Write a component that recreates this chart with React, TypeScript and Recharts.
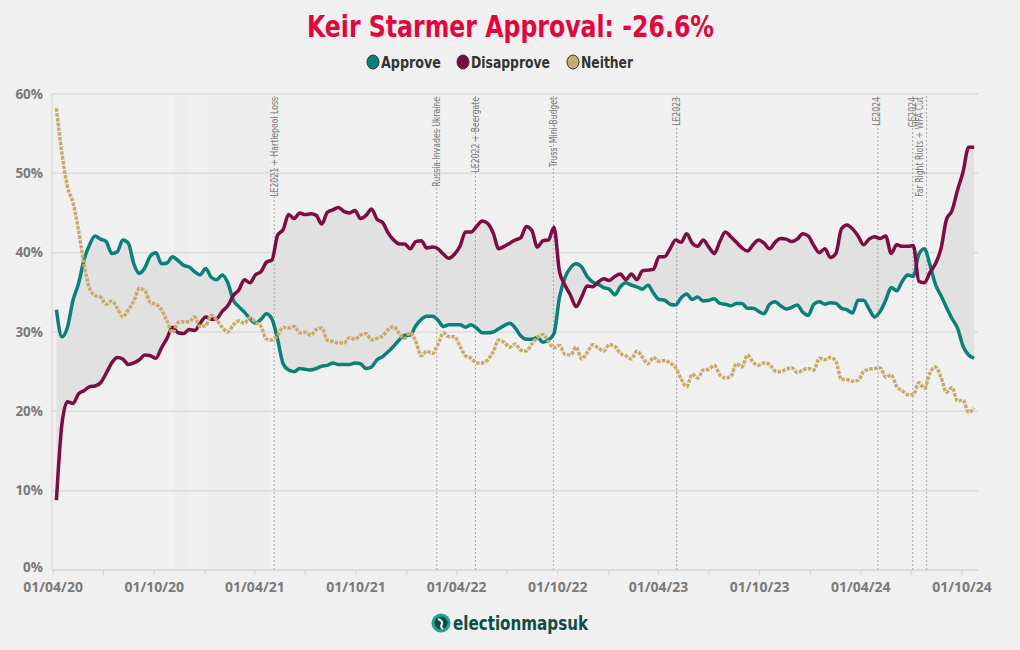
import React from 'react';
import {
  ComposedChart,
  Line,
  Area,
  XAxis,
  YAxis,
  CartesianGrid,
  ReferenceLine,
  ReferenceArea,
} from 'recharts';

// --- poll dates (rolling average, every 10 days) ---
const dates = [
  '2020-04-07', '2020-04-17', '2020-04-27', '2020-05-07', '2020-05-17', '2020-05-27', '2020-06-06', '2020-06-16', '2020-06-26', '2020-07-06',
  '2020-07-16', '2020-07-26', '2020-08-05', '2020-08-15', '2020-08-25', '2020-09-04', '2020-09-14', '2020-09-24', '2020-10-04', '2020-10-14',
  '2020-10-24', '2020-11-03', '2020-11-13', '2020-11-23', '2020-12-03', '2020-12-13', '2020-12-23', '2021-01-02', '2021-01-12', '2021-01-22',
  '2021-02-01', '2021-02-11', '2021-02-21', '2021-03-03', '2021-03-13', '2021-03-23', '2021-04-02', '2021-04-12', '2021-04-22', '2021-05-02',
  '2021-05-12', '2021-05-22', '2021-06-01', '2021-06-11', '2021-06-21', '2021-07-01', '2021-07-11', '2021-07-21', '2021-07-31', '2021-08-10',
  '2021-08-20', '2021-08-30', '2021-09-09', '2021-09-19', '2021-09-29', '2021-10-09', '2021-10-19', '2021-10-29', '2021-11-08', '2021-11-18',
  '2021-11-28', '2021-12-08', '2021-12-18', '2021-12-28', '2022-01-07', '2022-01-17', '2022-01-27', '2022-02-06', '2022-02-16', '2022-02-26',
  '2022-03-08', '2022-03-18', '2022-03-28', '2022-04-07', '2022-04-17', '2022-04-27', '2022-05-07', '2022-05-17', '2022-05-27', '2022-06-06',
  '2022-06-16', '2022-06-26', '2022-07-06', '2022-07-16', '2022-07-26', '2022-08-05', '2022-08-15', '2022-08-25', '2022-09-04', '2022-09-14',
  '2022-09-24', '2022-10-04', '2022-10-14', '2022-10-24', '2022-11-03', '2022-11-13', '2022-11-23', '2022-12-03', '2022-12-13', '2022-12-23',
  '2023-01-02', '2023-01-12', '2023-01-22', '2023-02-01', '2023-02-11', '2023-02-21', '2023-03-03', '2023-03-13', '2023-03-23', '2023-04-02',
  '2023-04-12', '2023-04-22', '2023-05-02', '2023-05-12', '2023-05-22', '2023-06-01', '2023-06-11', '2023-06-21', '2023-07-01', '2023-07-11',
  '2023-07-21', '2023-07-31', '2023-08-10', '2023-08-20', '2023-08-30', '2023-09-09', '2023-09-19', '2023-09-29', '2023-10-09', '2023-10-19',
  '2023-10-29', '2023-11-08', '2023-11-18', '2023-11-28', '2023-12-08', '2023-12-18', '2023-12-28', '2024-01-07', '2024-01-17', '2024-01-27',
  '2024-02-06', '2024-02-16', '2024-02-26', '2024-03-07', '2024-03-17', '2024-03-27', '2024-04-06', '2024-04-16', '2024-04-26', '2024-05-06',
  '2024-05-16', '2024-05-26', '2024-06-05', '2024-06-15', '2024-06-25', '2024-07-05', '2024-07-15', '2024-07-25', '2024-08-04', '2024-08-14',
  '2024-08-24', '2024-09-03', '2024-09-13', '2024-09-23', '2024-10-03', '2024-10-13', '2024-10-23',
];

const approve = [
  32.8, 29.4, 30.6, 34.0, 36.1, 39.1, 41.0, 42.1, 41.7, 41.4,
  39.9, 40.1, 41.6, 41.2, 38.6, 37.4, 38.1, 39.6, 40.0, 38.6,
  38.7, 39.5, 39.0, 38.4, 38.2, 37.6, 37.2, 38.0, 36.9, 36.6,
  37.2, 36.2, 34.0, 33.2, 32.5, 31.7, 31.1, 31.6, 32.3, 31.6,
  29.1, 26.0, 25.2, 25.0, 25.4, 25.3, 25.2, 25.4, 25.7, 25.8,
  26.1, 25.9, 25.9, 25.9, 26.1, 26.0, 25.4, 25.6, 26.5, 26.9,
  27.5, 28.2, 29.0, 29.6, 29.6, 30.8, 31.6, 32.0, 32.0, 31.5,
  30.7, 30.9, 30.9, 30.9, 30.6, 30.9, 30.5, 29.9, 29.9, 30.0,
  30.4, 30.8, 31.1, 30.5, 29.5, 29.1, 29.1, 29.3, 28.7, 29.0,
  29.8, 34.4, 36.9, 38.1, 38.6, 38.2, 37.0, 36.3, 36.0, 35.6,
  35.4, 34.7, 35.7, 36.2, 35.9, 35.7, 35.4, 35.9, 34.9, 34.1,
  34.0, 33.5, 33.4, 34.3, 34.8, 34.1, 34.4, 33.9, 34.0, 34.2,
  33.6, 33.5, 33.3, 33.6, 33.6, 33.0, 33.0, 32.6, 32.3, 33.5,
  33.8, 33.3, 32.9, 33.1, 33.4, 32.5, 32.1, 33.5, 33.8, 33.5,
  33.7, 33.6, 33.0, 32.8, 32.4, 34.0, 34.0, 32.9, 31.9, 32.6,
  34.0, 35.6, 35.2, 36.4, 37.2, 37.0, 39.8, 40.5, 38.5, 36.0,
  34.6, 33.1, 31.7, 30.5, 28.2, 27.1, 26.7,
];

const disapprove = [
  8.8, 18.4, 21.2, 21.0, 22.2, 22.6, 23.1, 23.2, 23.6, 24.8,
  26.1, 26.8, 26.6, 25.9, 26.1, 26.5, 27.1, 27.0, 26.7, 28.0,
  29.2, 30.6, 29.9, 29.8, 30.3, 30.2, 31.1, 31.9, 31.6, 31.7,
  32.6, 33.3, 34.6, 35.3, 36.6, 36.2, 37.2, 37.6, 38.8, 39.1,
  42.2, 42.9, 44.8, 44.3, 45.0, 44.8, 44.9, 44.7, 43.6, 45.1,
  45.4, 45.7, 45.2, 45.0, 45.3, 44.3, 44.7, 45.5, 44.2, 43.8,
  42.5, 41.6, 41.1, 41.1, 40.5, 41.4, 41.5, 40.6, 40.7, 40.5,
  39.8, 39.3, 39.8, 40.8, 42.6, 42.6, 43.3, 44.0, 43.7, 42.5,
  40.5, 40.8, 41.2, 41.6, 41.9, 43.3, 42.8, 40.7, 41.5, 41.6,
  43.2, 37.6, 35.9, 34.6, 33.2, 34.4, 35.8, 35.7, 36.3, 36.7,
  36.5, 37.0, 37.3, 36.6, 37.3, 36.6, 37.7, 37.8, 37.9, 39.5,
  39.5, 40.5, 41.6, 41.3, 42.4, 41.2, 40.8, 41.6, 40.7, 39.9,
  41.4, 42.6, 42.0, 41.3, 40.6, 40.2, 41.0, 41.6, 41.2, 40.5,
  41.3, 41.8, 41.7, 41.4, 41.7, 42.4, 42.1, 40.9, 40.0, 40.5,
  39.4, 39.9, 43.0, 43.5, 43.0, 42.1, 41.0, 41.7, 42.0, 41.8,
  42.1, 39.9, 41.0, 40.8, 40.8, 40.9, 36.4, 36.2, 37.5, 38.6,
  40.5, 44.2, 45.3, 47.9, 50.2, 53.3, 53.3,
];

const neither = [
  58.2, 52.5, 48.3, 46.3, 42.8, 38.5, 35.5, 34.6, 34.4, 33.5,
  33.9, 33.0, 31.9, 32.8, 33.9, 35.5, 35.2, 33.7, 33.5, 32.8,
  31.4, 29.9, 31.2, 31.3, 31.3, 31.9, 30.7, 30.8, 32.1, 31.5,
  30.6, 30.0, 30.9, 31.4, 31.1, 31.8, 31.2, 30.7, 29.1, 29.0,
  29.6, 30.6, 30.5, 30.7, 29.9, 30.0, 29.6, 30.3, 30.5, 29.0,
  28.8, 28.6, 28.6, 29.3, 29.1, 29.6, 29.8, 29.0, 29.2, 29.5,
  30.3, 30.7, 29.8, 29.2, 29.9, 28.8, 27.0, 27.6, 27.3, 28.4,
  29.9, 29.4, 29.4, 28.2, 27.0, 26.7, 26.1, 26.1, 26.5, 27.5,
  29.0, 28.7, 28.1, 28.5, 27.7, 27.6, 28.5, 29.3, 29.7, 28.8,
  28.0, 28.3, 27.2, 27.1, 28.1, 26.6, 27.4, 28.4, 28.0, 27.6,
  28.4, 28.2, 27.3, 27.0, 26.6, 27.6, 26.8, 26.0, 26.8, 26.3,
  26.4, 26.1, 25.5, 24.1, 23.1, 24.7, 24.2, 25.2, 25.3, 25.8,
  24.6, 24.2, 24.4, 26.0, 25.6, 27.1, 26.2, 25.8, 26.1, 25.9,
  25.1, 25.0, 25.3, 25.5, 24.9, 25.2, 25.4, 25.2, 26.7, 26.5,
  26.8, 26.3, 24.0, 24.0, 23.8, 23.9, 25.0, 25.3, 25.4, 25.5,
  24.3, 24.6, 23.1, 22.6, 22.1, 22.1, 23.6, 22.9, 24.8, 25.6,
  24.3, 22.4, 23.0, 21.3, 21.4, 19.9, 20.4,
];

// quarterly ticks, labels only on April / October
const xTickDates = [
  '2020-04-01', '2020-07-01', '2020-10-01', '2021-01-01', '2021-04-01', '2021-07-01', '2021-10-01',
  '2022-01-01', '2022-04-01', '2022-07-01', '2022-10-01', '2023-01-01', '2023-04-01', '2023-07-01',
  '2023-10-01', '2024-01-01', '2024-04-01', '2024-07-01', '2024-10-01',
];
const yTicks = [0, 10, 20, 30, 40, 50, 60];

const events = [
  { date: '2021-05-06', label: 'LE2021 + Hartlepool Loss', dx: 0 },
  { date: '2022-02-24', label: 'Russia Invades Ukraine', dx: 0 },
  { date: '2022-05-05', label: 'LE2022 + Beergate', dx: 0 },
  { date: '2022-09-23', label: "Truss' Mini-Budget", dx: 0 },
  { date: '2023-05-04', label: 'LE2023', dx: 0 },
  { date: '2024-05-02', label: 'LE2024', dx: -1 },
  { date: '2024-07-04', label: 'GE2024', dx: 0 },
  { date: '2024-07-29', label: 'Far Right Riots + WFA Cut', dx: -7 },
];

// lockdown shading
const bands = [
  { from: '2020-03-23', to: '2020-06-30' },
  { from: '2020-11-05', to: '2020-12-02' },
  { from: '2021-01-06', to: '2021-04-28' },
];

const legendItems = [
  { label: 'Approve', color: '#0a8079', cx: 373, width: 60 },
  { label: 'Disapprove', color: '#7d0c42', cx: 463, width: 79 },
  { label: 'Neither', color: '#c9ab6c', cx: 573, width: 52 },
];

const ts = (d: string) => Date.parse(d);

const rows = dates.map((d, i) => ({
  t: ts(d),
  approve: approve[i],
  disapprove: disapprove[i],
  neither: neither[i],
  band: [approve[i], disapprove[i]],
}));

const APPROVE = '#0a8079';
const DISAPPROVE = '#7d0c42';
const NEITHER = '#c9ab6c';
const NARROW = "'Liberation Sans Narrow', 'DejaVu Sans Condensed', 'Roboto', sans-serif";
const TICK_FONT = "'Open Sans', 'Lato', sans-serif";

const fmtTick = (v: number) => {
  const d = new Date(v);
  const m = d.getUTCMonth();
  if (m !== 3 && m !== 9) return '';
  const mm = String(m + 1).padStart(2, '0');
  const yy = String(d.getUTCFullYear()).slice(2);
  return `01/${mm}/${yy}`;
};

// y tick: the 0% label sits a touch higher so it clears the date labels
const YTick = ({ x, y, payload }: any) => (
  <text
    x={x}
    y={payload.value === 0 ? y - 3 : y}
    dy="0.355em"
    textAnchor="end"
    fill="#7a7a7a"
    fontSize={13.5}
    fontWeight={700}
    fontFamily={TICK_FONT}
  >
    {`${payload.value}%`}
  </text>
);

const EventLabel = ({ viewBox, text, dx }: any) => {
  if (!viewBox) return null;
  const x = viewBox.x + 3.5 + dx;
  const y = viewBox.y + 3;
  return (
    <text
      transform={`translate(${x}, ${y}) rotate(-90) scale(0.86, 1)`}
      textAnchor="end"
      fontSize={10}
      fill="#7a7a7a"
      fontFamily={NARROW}
    >
      {text}
    </text>
  );
};

export default function App() {
  return (
    <div
      style={{
        position: 'absolute',
        left: 0,
        top: 0,
        width: 1020,
        height: 650,
        background: '#f0f0f0',
        overflow: 'hidden',
      }}
    >
      <div style={{ position: 'absolute', left: 0, top: 0 }}>
        <ComposedChart
          width={1020}
          height={650}
          data={rows}
          margin={{ top: 94, right: 42, bottom: 50, left: 7 }}
        >
          {bands.map((b, i) => (
            <ReferenceArea
              key={`band-${i}`}
              x1={ts(b.from)}
              x2={ts(b.to)}
              y1={0}
              y2={60}
              fill="#e4e4e4"
              fillOpacity={0.18}
              stroke="none"
            />
          ))}
          <CartesianGrid vertical={false} stroke="#dcdcdc" strokeWidth={1.5} />
          <XAxis
            dataKey="t"
            type="number"
            domain={[ts('2020-03-30'), ts('2024-10-30')]}
            allowDataOverflow
            ticks={xTickDates.map(ts)}
            interval={0}
            tickFormatter={fmtTick}
            stroke="#d4d4d4"
            tickLine={{ stroke: '#d4d4d4' }}
            tickSize={5}
            tickMargin={7}
            height={30}
            tick={{ fill: '#7a7a7a', fontSize: 14, fontWeight: 700, fontFamily: TICK_FONT }}
          />
          <YAxis
            domain={[0, 60]}
            ticks={yTicks}
            interval={0}
            stroke="#d4d4d4"
            tickLine={false}
            tickSize={0}
            tickMargin={9}
            width={45}
            tick={<YTick />}
          />
          <Area
            type="monotone"
            dataKey="band"
            stroke="none"
            fill="#e1e1e1"
            fillOpacity={1}
            isAnimationActive={false}
          />
          {events.map((e) => (
            <ReferenceLine
              key={e.label}
              x={ts(e.date)}
              stroke="#a8a8a8"
              strokeWidth={1}
              strokeDasharray="2 2"
              label={(p: any) => <EventLabel viewBox={p.viewBox} text={e.label} dx={e.dx} />}
            />
          ))}
          <Line
            type="monotone"
            dataKey="approve"
            stroke={APPROVE}
            strokeWidth={3.5}
            dot={false}
            isAnimationActive={false}
          />
          <Line
            type="monotone"
            dataKey="disapprove"
            stroke={DISAPPROVE}
            strokeWidth={3.5}
            dot={false}
            isAnimationActive={false}
          />
          <Line
            type="monotone"
            dataKey="neither"
            stroke={NEITHER}
            strokeWidth={3.5}
            strokeDasharray="3.5 1.3"
            dot={false}
            isAnimationActive={false}
          />
        </ComposedChart>
      </div>

      {/* title, legend and logo */}
      <svg
        width={1020}
        height={650}
        style={{ position: 'absolute', left: 0, top: 0, pointerEvents: 'none' }}
      >
        <text
          x={307}
          y={37}
          textLength={407}
          lengthAdjust="spacingAndGlyphs"
          fontFamily={NARROW}
          fontWeight={700}
          fontSize={31}
          fill="#e2063d"
        >
          Keir Starmer Approval: -26.6%
        </text>
        {legendItems.map((it) => (
          <g key={it.label}>
            <ellipse cx={it.cx} cy={62} rx={6} ry={7} fill={it.color} stroke="#333" strokeWidth={1} />
            <text
              x={it.cx + 8}
              y={68}
              textLength={it.width}
              lengthAdjust="spacingAndGlyphs"
              fontFamily={NARROW}
              fontWeight={700}
              fontSize={16}
              fill="#333"
            >
              {it.label}
            </text>
          </g>
        ))}
        <g transform="translate(441, 623)">
          <circle r={9.5} fill="#1fa596" />
          <circle r={6.5} fill="#0e4d47" />
          <path d="M-3 -4 Q2 -2 1 1 Q-1 4 2 6" stroke="#ffffff" strokeWidth={2} fill="none" />
        </g>
        <text
          x={453}
          y={630}
          textLength={135}
          lengthAdjust="spacingAndGlyphs"
          fontFamily={NARROW}
          fontWeight={700}
          fontSize={20}
          fill="#0e4d47"
        >
          electionmapsuk
        </text>
      </svg>
    </div>
  );
}
